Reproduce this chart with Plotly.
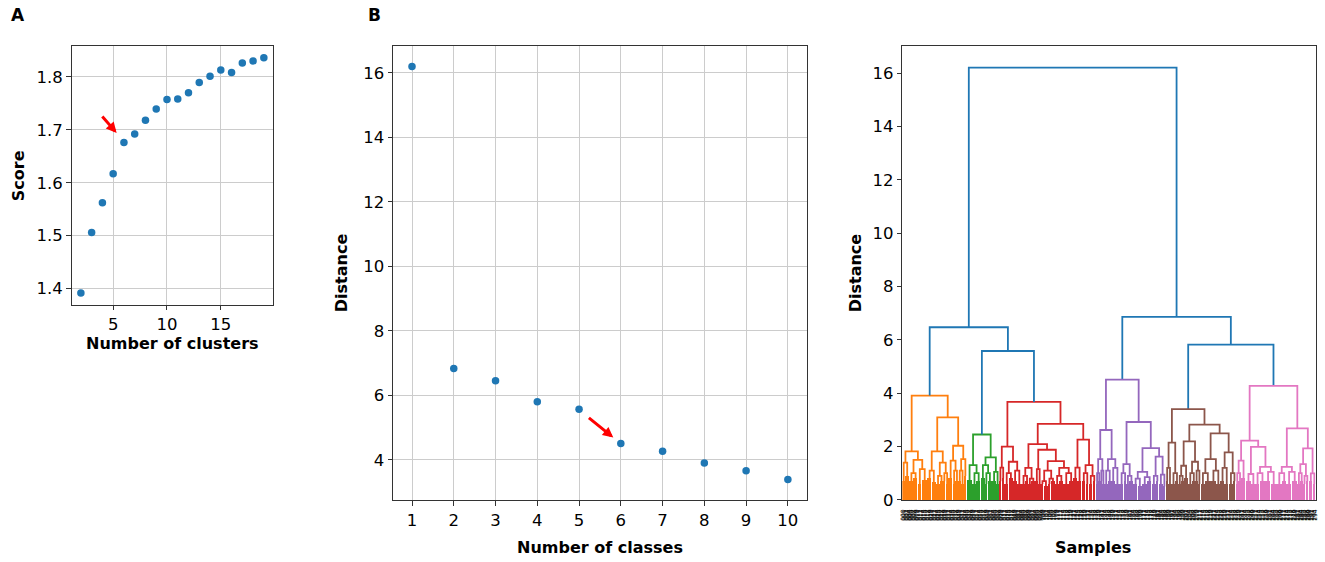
import plotly.graph_objects as go

# ---------------- data ----------------
# Panel A: score vs number of clusters
clusters_k = [2, 3, 4, 5, 6, 7, 8, 9, 10, 11, 12, 13, 14, 15, 16, 17, 18, 19]
scores = [1.392, 1.506, 1.562, 1.617, 1.676, 1.692, 1.718, 1.739, 1.757, 1.758,
          1.770, 1.789, 1.801, 1.813, 1.808, 1.826, 1.830, 1.836]
a_xticks = [5, 10, 15]
a_yticks = [1.4, 1.5, 1.6, 1.7, 1.8]

# Panel B: merge distance vs number of classes
classes_k = [1, 2, 3, 4, 5, 6, 7, 8, 9, 10]
distances = [16.2, 6.83, 6.45, 5.80, 5.57, 4.51, 4.27, 3.90, 3.66, 3.39]
b_xticks = [1, 2, 3, 4, 5, 6, 7, 8, 9, 10]
b_yticks = [4, 6, 8, 10, 12, 14, 16]

# arrows (tail -> head) in data units
arrow_a = (3.87, 1.728, 5.32, 1.694)
arrow_b = (5.20, 5.34, 5.82, 4.69)

# Panel C: dendrogram. node = [height, left, right]; dense leaf group = [height, n_leaves]
cluster_colors = ["#ff7f0e", "#2ca02c", "#d62728", "#9467bd", "#8c564b", "#e377c2"]
above_color = "#1f77b4"

orange_tree = [3.91,
    [1.82,
        [1.40, [0.7, 2], [0.9, 3]],
        [1.50, [1.0, [0.7, 3], [0.8, 3]], [1.15, [0.6, 3], [0.75, 4]]]],
    [3.09,
        [1.82,
            [1.10, [0.8, 3], [0.65, 3]],
            [1.40, [0.9, [0.6, 3], [0.7, 2]], [1.0, [0.7, 2], [0.6, 2]]]],
        [2.03,
            [1.47, [0.8, 3], [1.1, [0.6, 2], [0.7, 2]]],
            [1.53, [1.1, [0.7, 2], [0.6, 2]], [0.9, 2]]]]]

green_tree = [2.45,
    [1.30, [0.75, 4], [1.0, [0.6, 3], [0.7, 3]]],
    [1.59, [1.30, [0.8, 3], [1.0, [0.6, 2], [0.7, 3]]], [1.05, [0.7, 3], [0.6, 2]]]]

red_tree = [3.67,
    [2.00,
        [1.21, [0.7, 2], [0.8, 2]],
        [1.43, [1.0, [0.6, 3], [0.8, 3]], [1.1, [0.7, 3], [0.6, 3]]]],
    [2.85,
        [2.09,
            [1.20, [0.9, [0.6, 3], [0.7, 2]], [0.8, [0.6, 2], [0.7, 3]]],
            [1.88,
                [1.15, [0.7, 2], [0.6, 2]],
                [1.45,
                    [1.10, [0.7, [0.6, 2], [0.5, 3]], [0.8, [0.6, 2], [0.7, 3]]],
                    [1.20, [0.9, [0.6, 3], [0.7, 3]], [1.0, [0.6, 4], [0.7, 3]]]]]],
        [2.26,
            [1.21, [0.8, 3], [0.7, 3]],
            [1.30, [1.0, [0.7, 3], [0.6, 2]], [0.9, [0.6, 3], [0.7, 2]]]]]]

purple_tree = [4.51,
    [2.62,
        [1.53, [1.0, [0.6, 2], [0.7, 1]], [1.1, [0.7, 2], [0.6, 1]]],
        [1.53, [1.1, [0.6, 3], [0.7, 2]], [1.2, [0.7, 3], [0.6, 3]]]],
    [2.92,
        [1.34, [1.0, [0.6, 3], [0.7, 2]], [0.9, [0.6, 2], [0.7, 3]]],
        [1.94,
            [1.05, [0.8, [0.6, 3], [0.5, 3]], [0.85, [0.6, 4], [0.7, 3]]],
            [1.62, [0.9, [0.6, 3], [0.7, 2]], [0.95, [0.6, 3], [0.5, 2]]]]]]

brown_tree = [3.40,
    [2.15, [1.2, [0.7, 2], [0.6, 2]], [1.0, [0.6, 3], [0.7, 2]]],
    [2.82,
        [2.19,
            [1.28, [0.9, [0.6, 2], [0.7, 2]], [0.8, 3]],
            [1.43, [1.0, [0.6, 3], [0.7, 2]], [1.1, [0.7, 2], [0.6, 2]]]],
        [2.49,
            [1.53, [1.0, [0.6, 3], [0.7, 4]], [1.1, [0.7, 4], [0.6, 3]]],
            [1.78, [1.2, [0.7, 3], [0.6, 3]], [1.0, [0.6, 3], [0.7, 2]]]]]]

pink_tree = [4.27,
    [2.22,
        [1.47, [1.0, [0.6, 2], [0.7, 2]], [0.8, 3]],
        [1.99,
            [0.97, [0.7, 4], [0.6, 3]],
            [1.24, [1.0, [0.6, 3], [0.7, 4]], [1.05, [0.7, 4], [0.6, 4]]]]],
    [2.68,
        [1.24, [1.0, [0.6, 4], [0.7, 3]], [1.05, [0.6, 4], [0.7, 4]]],
        [1.93,
            [1.34, [1.0, [0.6, 2], [0.7, 2]], [0.9, [0.6, 2], [0.7, 2]]],
            [0.99, [0.7, 3], [0.6, 2]]]]]

cluster_trees = [orange_tree, green_tree, red_tree, purple_tree, brown_tree, pink_tree]
# upper tree: integers refer to the clusters above
upper_tree = [16.2, [6.47, 0, [5.58, 1, 2]], [6.86, 3, [5.82, 4, 5]]]
c_yticks = [0, 2, 4, 6, 8, 10, 12, 14, 16]

# ---------------- dendrogram layout ----------------
links = {}   # color -> list of (xl, hl, xr, hr, h)
blocks = []  # (start, n, h, color)


def lay(node, start, color):
    if isinstance(node, int):
        return lay(cluster_trees[node], start, cluster_colors[node])
    if len(node) == 2:
        h, n = node
        blocks.append((start, n, h, color))
        return (start + n / 2.0) * 10.0, h, n
    h, left, right = node
    xl, hl, nl = lay(left, start, color)
    xr, hr, nr = lay(right, start + nl, color)
    links.setdefault(color, []).append((xl, hl, xr, hr, h))
    return (xl + xr) / 2.0, h, nl + nr


_, _, n_leaves = lay(upper_tree, 0, above_color)
leaf_labels = [f"{i:03d}" for i in range(n_leaves)]
leaf_pos = [5 + 10 * i for i in range(n_leaves)]

# ---------------- figure ----------------
W, H = 1325, 573      # the viewer shows ~573 px of page squeezed into 562
REF_H = 562
FONT = "DejaVu Sans"
fig = go.Figure()

fig.add_trace(go.Scatter(x=clusters_k, y=scores, mode="markers",
                         marker=dict(color="#1f77b4", size=7.5), xaxis="x", yaxis="y",
                         showlegend=False, hoverinfo="skip"))
fig.add_trace(go.Scatter(x=classes_k, y=distances, mode="markers",
                         marker=dict(color="#1f77b4", size=7.5), xaxis="x2", yaxis="y2",
                         showlegend=False, hoverinfo="skip"))

# dense leaf groups as solid bars
fig.add_trace(go.Bar(
    x=[(s + n / 2.0) * 10.0 for s, n, h, c in blocks],
    y=[h for s, n, h, c in blocks],
    width=[(n - 1) * 10 + 8 for s, n, h, c in blocks],
    marker=dict(color=[c for s, n, h, c in blocks], line=dict(width=0)),
    xaxis="x3", yaxis="y3", showlegend=False, hoverinfo="skip"))

for color, lst in links.items():
    xs, ys = [], []
    for xl, hl, xr, hr, h in lst:
        xs += [xl, xl, xr, xr, None]
        ys += [hl, h, h, hr, None]
    fig.add_trace(go.Scatter(x=xs, y=ys, mode="lines",
                             line=dict(color=color, width=1.8),
                             xaxis="x3", yaxis="y3", showlegend=False, hoverinfo="skip"))


def px_x(p):
    return p / W


def px_y(p):
    return 1 - p / REF_H


axis_common = dict(showline=True, mirror=True, linecolor="#333333", linewidth=1.2,
                   ticks="outside", ticklen=4.5, tickwidth=1.1, tickcolor="#333333",
                   tickfont=dict(family=FONT, size=16.5, color="black"),
                   showgrid=True, gridcolor="#cccccc", gridwidth=1, zeroline=False)

fig.update_layout(
    width=W, height=H, autosize=False,
    margin=dict(l=0, r=0, t=0, b=0),
    paper_bgcolor="white", plot_bgcolor="white",
    font=dict(family=FONT, color="black"),
    bargap=0,
    xaxis=dict(domain=[px_x(69), px_x(271)], range=[1.15, 19.85],
               tickmode="array", tickvals=a_xticks, anchor="y", **axis_common),
    yaxis=dict(domain=[px_y(304), px_y(46)], range=[1.370, 1.858],
               tickmode="array", tickvals=a_yticks, tickformat=".1f", anchor="x", **axis_common),
    xaxis2=dict(domain=[px_x(391.7), px_x(806.7)], range=[0.55, 10.45],
                tickmode="array", tickvals=b_xticks, anchor="y2", **axis_common),
    yaxis2=dict(domain=[px_y(499.3), px_y(45.7)], range=[2.75, 16.84],
                tickmode="array", tickvals=b_yticks, anchor="x2", **axis_common),
    xaxis3=dict(domain=[px_x(902.7), px_x(1317.7)], range=[0, 10 * n_leaves],
                showline=True, mirror=True, linecolor="#333333", linewidth=1.2,
                ticks="", showgrid=False, zeroline=False,
                tickmode="array", tickvals=leaf_pos, ticktext=leaf_labels,
                tickangle=-90, ticklabelstandoff=6,
                tickfont=dict(family=FONT, size=6, color="black"), anchor="y3"),
    yaxis3=dict(domain=[px_y(499), px_y(46)], range=[0, 17.01],
                tickmode="array", tickvals=c_yticks, anchor="x3",
                **{**axis_common, "showgrid": False}),
)

ann = []


def label(text, x, y, size=16, angle=0):
    ann.append(dict(text=text, x=px_x(x), y=px_y(y), xref="paper", yref="paper",
                    showarrow=False, textangle=angle, xanchor="center", yanchor="middle",
                    font=dict(family=FONT, size=size, color="black")))


label("<b>A</b>", 15, 15, size=17)
label("<b>B</b>", 373, 15, size=17)
label("<b>Score</b>", 15, 175, angle=-90)
label("<b>Number of clusters</b>", 170.5, 343)
label("<b>Distance</b>", 340, 272, angle=-90)
label("<b>Number of classes</b>", 599, 547)
label("<b>Distance</b>", 856, 272, angle=-90)
label("<b>Samples</b>", 1094, 547)

for (tx, ty, hx, hy), xr, yr in [(arrow_a, "x", "y"), (arrow_b, "x2", "y2")]:
    ann.append(dict(x=hx, y=hy, ax=tx, ay=ty, xref=xr, yref=yr, axref=xr, ayref=yr,
                    text="", showarrow=True, arrowhead=2, arrowsize=0.7, arrowwidth=3,
                    arrowcolor="#ff0000", standoff=0, startstandoff=0))

fig.update_layout(annotations=ann)
fig.write_html("out.html", config={"displayModeBar": False},
               post_script="document.body.style.margin='0px';"
                           "document.body.style.overflow='hidden';")
